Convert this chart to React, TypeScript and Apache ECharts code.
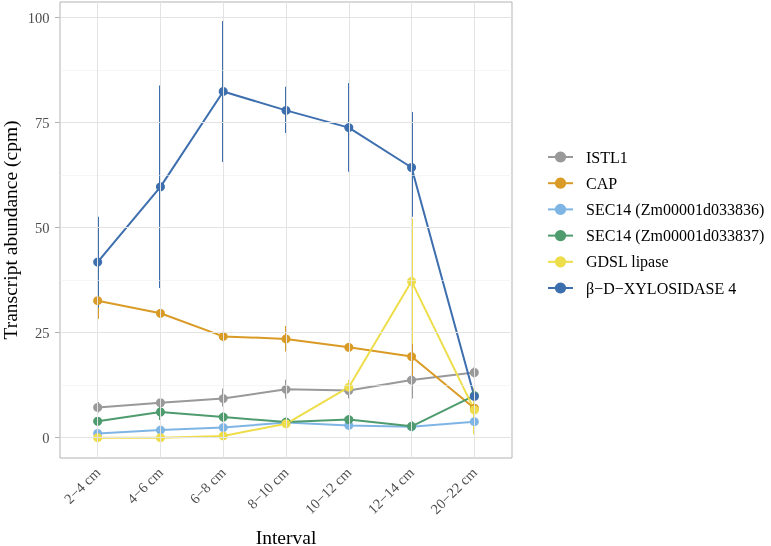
import React, { useEffect, useRef } from "react";
import * as echarts from "echarts";

const categories = ["2−4 cm", "4−6 cm", "6−8 cm", "8−10 cm", "10−12 cm", "12−14 cm", "20−22 cm"];
const yTicks = [0, 25, 50, 75, 100];
const yMinor = [12.5, 37.5, 62.5, 87.5];

const geneNames = ["ISTL1", "CAP", "SEC14 (Zm00001d033836)", "SEC14 (Zm00001d033837)", "GDSL lipase", "β−D−XYLOSIDASE 4"];
const geneColors = ["#999999", "#D99B25", "#7EB5E5", "#4E9B6E", "#EEDD4A", "#3D6EAE"];

const istl1 = [7.2, 8.3, 9.3, 11.5, 11.2, 13.7, 15.5];
const istl1Lo = [6.0, 7.6, 7.4, 9.3, 9.3, 9.3, 14.3];
const istl1Hi = [8.5, 9.0, 11.7, 13.8, 13.6, 17.9, 16.7];

const cap = [32.6, 29.6, 24.1, 23.5, 21.5, 19.3, 7.0];
const capLo = [28.3, 28.6, 23.0, 20.5, 20.8, 14.5, 5.6];
const capHi = [37.0, 30.6, 25.2, 26.6, 22.3, 24.2, 8.6];

const sec836 = [1.0, 1.8, 2.4, 3.6, 2.9, 2.6, 3.8];
const sec836Lo = [0.7, 1.5, 2.1, 3.3, 2.5, 2.3, 3.4];
const sec836Hi = [1.3, 2.1, 2.7, 3.9, 3.3, 2.9, 4.2];

const sec837 = [3.9, 6.1, 4.9, 3.7, 4.3, 2.7, 10.0];
const sec837Lo = [3.4, 4.2, 3.8, 3.2, 3.8, 1.5, 7.8];
const sec837Hi = [4.4, 8.0, 6.0, 4.2, 4.8, 3.9, 11.8];

const gdsl = [0.0, 0.0, 0.4, 3.3, 12.0, 37.2, 6.6];
const gdslLo = [0.0, 0.0, 0.2, 2.5, 10.2, 22.3, 0.8];
const gdslHi = [0.1, 0.1, 0.6, 4.2, 13.8, 52.2, 11.8];

const xyl = [41.8, 59.7, 82.4, 77.9, 73.8, 64.3, 9.8];
const xylLo = [31.0, 35.6, 65.6, 72.5, 63.3, 52.6, 9.0];
const xylHi = [52.6, 83.8, 99.2, 83.5, 84.4, 77.5, 10.6];

const means = [istl1, cap, sec836, sec837, gdsl, xyl];
const lows = [istl1Lo, capLo, sec836Lo, sec837Lo, gdslLo, xylLo];
const highs = [istl1Hi, capHi, sec836Hi, sec837Hi, gdslHi, xylHi];

const FONT = "'Liberation Serif', 'Times New Roman', serif";

export default function App() {
  const ref = useRef<HTMLDivElement>(null);
  useEffect(() => {
    if (!ref.current) return;
    const chart = echarts.init(ref.current, undefined, { renderer: "svg" });
    const xIdx = categories.map((_, i) => i + 1);

    const gridSeries: any = {
      type: "line",
      name: "grid",
      data: [[1, 0]],
      symbol: "none",
      lineStyle: { opacity: 0 },
      silent: true,
      z: 0,
      markLine: {
        silent: true,
        symbol: ["none", "none"],
        label: { show: false },
        animation: false,
        data: [
          ...yMinor.map((v) => ({ yAxis: v, lineStyle: { color: "#f0f0f0", width: 0.6, type: "solid" } })),
          ...yTicks.map((v) => ({ yAxis: v, lineStyle: { color: "#e3e3e3", width: 1, type: "solid" } })),
          ...xIdx.map((v) => ({ xAxis: v, lineStyle: { color: "#e3e3e3", width: 1, type: "solid" } })),
        ],
      },
    };

    const errSeries = geneNames.map((n, g) => ({
      type: "custom",
      name: n + " err",
      z: 3,
      silent: true,
      data: categories.map((_, i) => [i + 1, lows[g][i], highs[g][i]]),
      encode: { x: 0, y: [1, 2] },
      renderItem: (params: any, api: any) => {
        const x = api.value(0);
        const p1 = api.coord([x, api.value(1)]);
        const p2 = api.coord([x, api.value(2)]);
        return {
          type: "rect",
          shape: { x: Math.round(p1[0]) - 1, y: p2[1], width: 2, height: Math.max(p1[1] - p2[1], 0.5) },
          style: { fill: geneColors[g] },
        };
      },
    }));

    const lineSeries = geneNames.map((n, g) => ({
      type: "line",
      name: n,
      z: 4,
      data: categories.map((_, i) => [i + 1, means[g][i]]),
      symbol: "circle",
      symbolSize: 9,
      showSymbol: true,
      itemStyle: { color: geneColors[g] },
      lineStyle: { color: geneColors[g], width: 2 },
    }));

    chart.setOption({
      animation: false,
      textStyle: { fontFamily: FONT },
      grid: {
        left: 60,
        top: 2,
        width: 452,
        height: 456,
        outerBoundsMode: "none",
        containLabel: false,
        show: true,
        borderColor: "#b3b3b3",
        borderWidth: 1,
        backgroundColor: "transparent",
      },
      xAxis: {
        type: "value",
        min: 0.4,
        max: 7.6,
        axisLine: { show: false },
        splitLine: { show: false },
        axisTick: { show: true, customValues: xIdx, length: 4.5, lineStyle: { color: "#b3b3b3" } },
        axisLabel: {
          customValues: xIdx,
          rotate: 45,
          margin: 12,
          padding: [12, 0, 0, 0],
          formatter: (v: number) => categories[Math.round(v) - 1] ?? "",
          fontFamily: FONT,
          fontSize: 14.5,
          color: "#4d4d4d",
        },
        name: "Interval",
        nameLocation: "middle",
        nameGap: 69,
        nameMoveOverlap: false,
        nameTextStyle: { fontFamily: FONT, fontSize: 19.5, color: "#000" },
      },
      yAxis: {
        type: "value",
        min: -4.85,
        max: 103.7,
        axisLine: { show: false },
        splitLine: { show: false },
        axisTick: { show: true, customValues: yTicks, length: 5, lineStyle: { color: "#b3b3b3" } },
        axisLabel: {
          customValues: yTicks,
          margin: 10.5,
          fontFamily: FONT,
          fontSize: 14.5,
          color: "#4d4d4d",
        },
        name: "Transcript abundance (cpm)",
        nameLocation: "middle",
        nameRotate: 90,
        nameGap: 40,
        nameMoveOverlap: false,
        nameTextStyle: { fontFamily: FONT, fontSize: 19.5, color: "#000" },
      },
      legend: {
        data: geneNames,
        orient: "vertical",
        left: 547,
        top: 149,
        padding: 0,
        itemWidth: 25,
        itemHeight: 14,
        itemGap: 10.2,
        textStyle: { fontFamily: FONT, fontSize: 16, color: "#000", padding: [0, 0, 0, 8] },
      },
      series: [gridSeries, ...errSeries, ...lineSeries],
    });
    return () => chart.dispose();
  }, []);
  return (
    <div
      ref={ref}
      style={{ position: "fixed", left: 0, top: 0, width: 771, height: 546, overflow: "hidden" }}
    />
  );
}
